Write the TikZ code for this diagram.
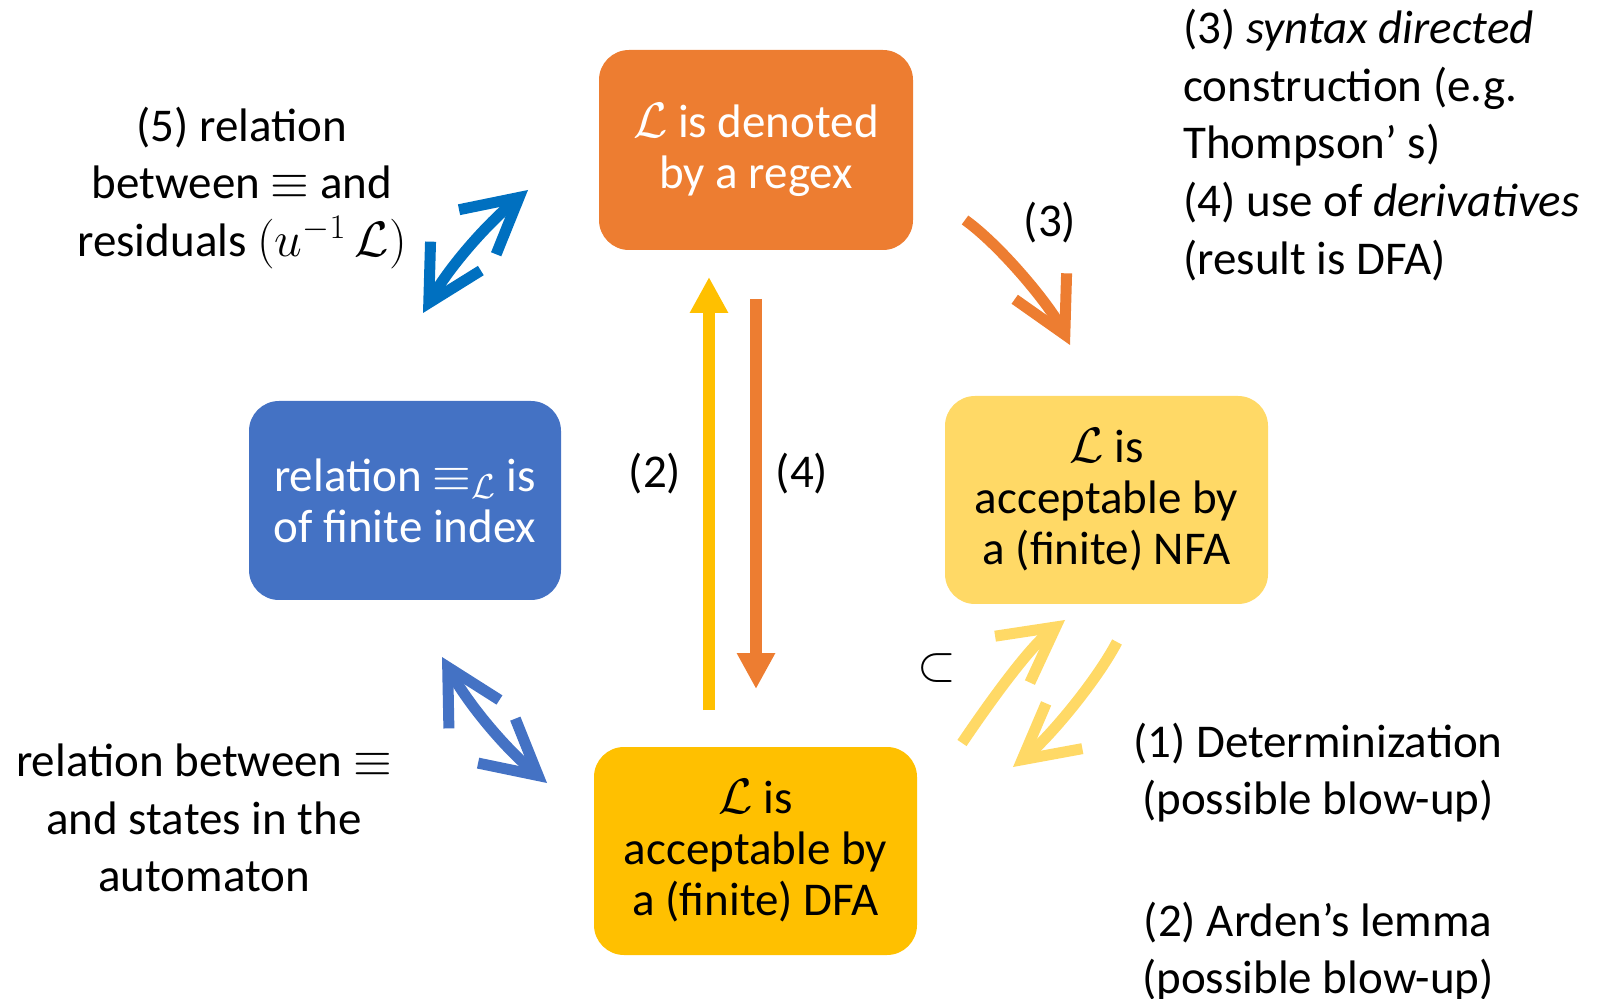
\documentclass[tikz,border=0pt]{standalone}
\usepackage{fontspec}
\setmainfont{Carlito}
\usetikzlibrary{arrows.meta}
\definecolor{cOrange}{HTML}{ED7D31}
\definecolor{cBlue}{HTML}{4472C4}
\definecolor{cDarkBlue}{HTML}{0070C0}
\definecolor{cGold}{HTML}{FFC000}
\definecolor{cLight}{HTML}{FFD966}
\begin{document}
\begin{tikzpicture}[x=0.5pt,y=-0.5pt,
  box/.style={rounded corners=15pt, inner sep=0pt, align=center,
    font=\fontsize{23.5pt}{25.5pt}\selectfont},
  txt/.style={align=center, inner sep=0pt, font=\fontsize{23.5pt}{28.8pt}\selectfont},
  lbl/.style={inner sep=0pt, font=\fontsize{23.5pt}{28pt}\selectfont},
  barb/.tip={Straight Barb[length=27pt,width=29pt]},
  curv/.style={line width=5.5pt, -barb},
  bicurv/.style={line width=5.5pt, barb-barb},
  vert/.style={line width=6pt, -{Triangle[length=18pt,width=18pt]}}]
\useasboundingbox (0,0) rectangle (1606,999);

% boxes
\node[box, fill=cOrange, text=white, minimum width=157pt, minimum height=100pt]
  (regex) at (756,150) {$\mathcal{L}$ is denoted\\by a regex};
\node[box, fill=cBlue, text=white, minimum width=156pt, minimum height=99.5pt]
  (index) at (405,500.5) {relation $\equiv_{\mathcal{L}}$ is\\of finite index};
\node[box, fill=cLight, text=black, minimum width=161.5pt, minimum height=104pt]
  (nfa) at (1106.5,500) {$\mathcal{L}$ is\\acceptable by\\a (finite) NFA};
\node[box, fill=cGold, text=black, minimum width=161.5pt, minimum height=104pt]
  (dfa) at (755.5,851) {$\mathcal{L}$ is\\acceptable by\\a (finite) DFA};

% free texts
\node[txt] (t5) at (242,188) {(5) relation\\between $\equiv$ and\\residuals $(u^{-1}\,\mathcal{L})$};
\node[txt, align=left, anchor=west] (t34) at (1183,145)
  {(3) \textit{syntax directed}\\construction (e.g.\\Thompson’ s)\\(4) use of \textit{derivatives}\\(result is DFA)};
\node[txt] (tst) at (204,818) {relation between $\equiv$\\and states in the\\automaton};
\node[txt] (t12) at (1318,862) {(1) Determinization\\(possible blow-up)\\[32pt](2) Arden’s lemma\\(possible blow-up)};

% labels
\node[lbl] (l3) at (1050,223) {(3)};
\node[lbl] (l2) at (655,474) {(2)};
\node[lbl] (l4) at (802,474) {(4)};
\node[lbl] (lsub) at (937,668) {$\subset$};

% arrow end points
\coordinate (b1s) at (423,313);
\coordinate (b1e) at (528,190);
\coordinate (b2s) at (442,657);
\coordinate (b2e) at (547,783);
\coordinate (o3s) at (965,220);
\coordinate (o3e) at (1070,345);
\coordinate (yus) at (962,743);
\coordinate (yue) at (1065,620);
\coordinate (yds) at (1117,642);
\coordinate (yde) at (1013,767);
\coordinate (v2s) at (709,710);
\coordinate (v2e) at (709,277);
\coordinate (v4s) at (756,299);
\coordinate (v4e) at (756,689);

% arrows
\draw[bicurv, cDarkBlue] (b1s) .. controls (450,266) and (486,225) .. (b1e);
\draw[bicurv, cBlue] (b2s) .. controls (469,705) and (504,747) .. (b2e);
\draw[curv, cOrange] (o3s) .. controls (1000,245) and (1050,305) .. (o3e);
\draw[curv, cLight] (yus) .. controls (987,706) and (1029,647) .. (yue);
\draw[curv, cLight] (yds) .. controls (1096,682) and (1048,739) .. (yde);
\draw[vert, cGold] (v2s) -- (v2e);
\draw[vert, cOrange] (v4s) -- (v4e);
\end{tikzpicture}
\end{document}
